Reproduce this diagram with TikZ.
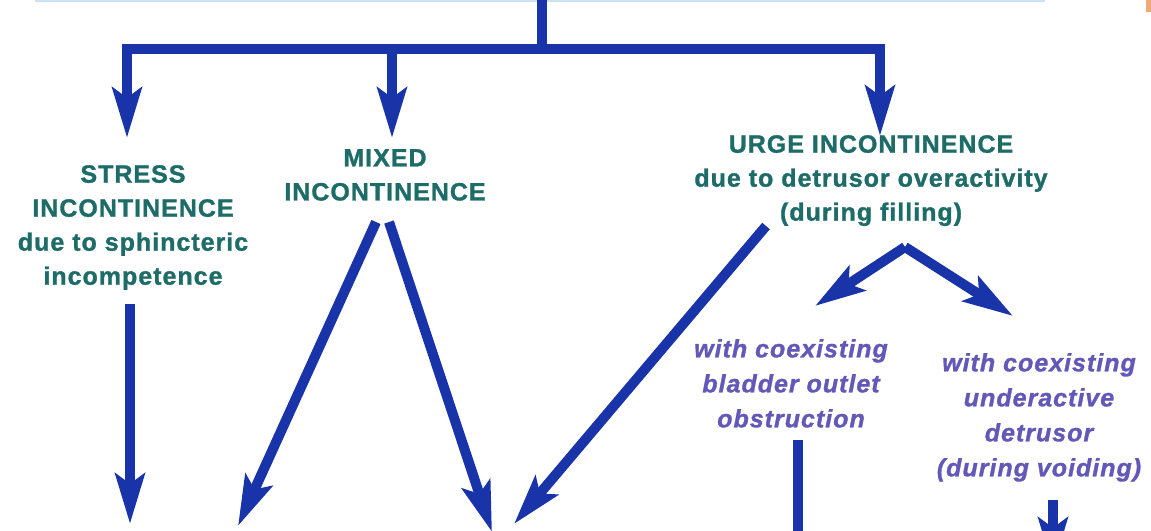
\documentclass[tikz,border=0pt]{standalone}
\usepackage{fontspec}
\setmainfont{Liberation Sans}
\newfontfamily\lblfont[LetterSpace=4,FakeBold=1.2]{Liberation Sans}
\usetikzlibrary{arrows.meta}
\definecolor{arrowblue}{RGB}{24,52,168}
\definecolor{tealtxt}{RGB}{30,108,104}
\definecolor{purptxt}{RGB}{98,88,184}
\definecolor{edgeblue}{RGB}{205,225,245}
\definecolor{edgeorange}{RGB}{235,170,120}
\tikzset{
  flow/.style={draw=arrowblue, line width=10pt, line join=miter,
    -{Stealth[length=50pt,width=29pt,inset=10pt]}},
  barline/.style={draw=arrowblue, line width=10pt},
  mainlbl/.style={text=tealtxt, font=\lblfont\bfseries\fontsize{25}{34}\selectfont,
    align=center, inner sep=0pt, anchor=north},
  sublbl/.style={text=purptxt, font=\lblfont\bfseries\itshape\fontsize{25}{35}\selectfont,
    align=center, inner sep=0pt, anchor=north},
}
\begin{document}
\begin{tikzpicture}[x=1pt,y=-1pt]
\clip (0,0) rectangle (1151,530);
\fill[white] (0,0) rectangle (1151,530);
% remnants of the box above
\draw[edgeblue, line width=2pt] (35,0.5) -- (1045,0.5);
\fill[edgeorange] (1146,0) rectangle (1151,12);

% nodes
\node[mainlbl] (stress) at (133,165) {STRESS\\INCONTINENCE\\due to sphincteric\\incompetence};
\node[mainlbl] (mixed) at (385,149) {MIXED\\INCONTINENCE};
\node[mainlbl] (urge) at (871,135) {URGE INCONTINENCE\\due to detrusor overactivity\\(during filling)};
\node[sublbl] (obstr) at (791,339) {with coexisting\\bladder outlet\\obstruction};
\node[sublbl] (under) at (1039,353) {with coexisting\\underactive\\detrusor\\(during voiding)};

% coordinates
\coordinate (top) at (542,-5);
\coordinate (hub) at (542,49);
\coordinate (stressIn) at (127,138);
\coordinate (mixedTop) at (392,49);
\coordinate (mixedIn) at (392,138);
\coordinate (urgeIn) at (880,136);
\coordinate (stressOut) at (130,304);
\coordinate (stressEnd) at (130,524);
\coordinate (mixL0) at (376,222);
\coordinate (mixL1) at (238,526);
\coordinate (mixR0) at (389,222);
\coordinate (mixR1) at (492,532);
\coordinate (urgeL0) at (766,226);
\coordinate (urgeL1) at (514,524);
\coordinate (split) at (905,247);
\coordinate (obstrIn) at (815,306);
\coordinate (underIn) at (1013,316);
\coordinate (obstrOut) at (798,440);
\coordinate (obstrEnd) at (798,620);
\coordinate (underOut) at (1053,500);
\coordinate (underEnd) at (1053,568);

% connectors
\draw[barline] (top) -- (hub);
\draw[flow] (hub) -| (stressIn);
\draw[flow] (hub) -| (urgeIn);
\draw[flow] (mixedTop) -- (mixedIn);
\draw[flow] (stressOut) -- (stressEnd);
\draw[flow] (mixL0) -- (mixL1);
\draw[flow] (mixR0) -- (mixR1);
\draw[flow] (urgeL0) -- (urgeL1);
\draw[flow] (split) -- (obstrIn);
\draw[flow] (split) -- (underIn);
\draw[flow] (obstrOut) -- (obstrEnd);
\draw[flow] (underOut) -- (underEnd);
\end{tikzpicture}
\end{document}
